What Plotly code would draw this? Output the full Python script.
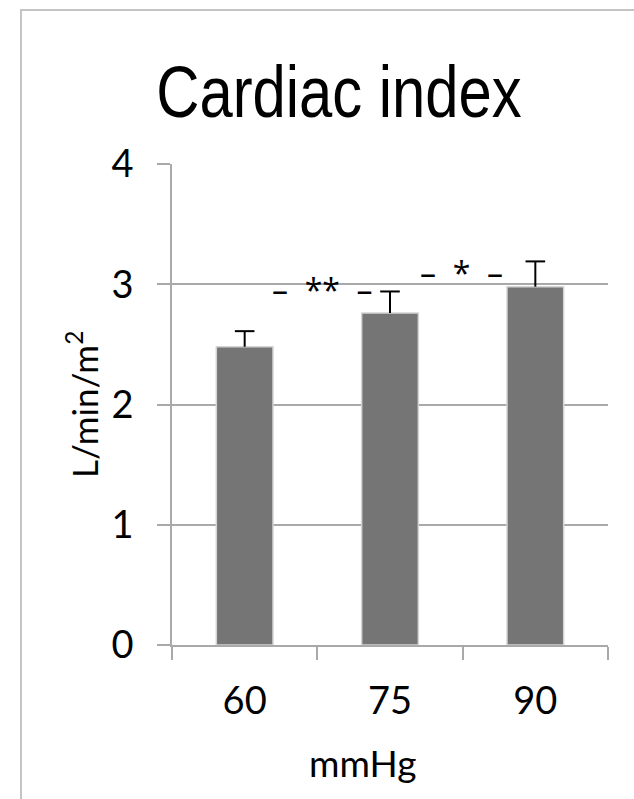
import plotly.graph_objects as go

# Mean cardiac index per mean arterial pressure target, with upper SD
pressures = ["60", "75", "90"]
cardiac_index = [2.48, 2.76, 2.98]
sd_upper = [0.13, 0.18, 0.21]

# Significance markers between neighbouring groups
sig_labels = ["–  **  –", "–  *  –"]
sig_x = [0.535, 1.49]
sig_y = [2.96, 3.10]

y_ticks = [0, 1, 2, 3, 4]

W, H = 634, 799
L, R, T, B = 172, 26, 164, 154
pw, ph = W - L - R, H - T - B

grid = "#a9a9a9"
body_font = "Lato"


def px_to_paper_y(py):
    return (T + ph - py) / ph


def px_to_paper_x(px):
    return (px - L) / pw


fig = go.Figure()
fig.add_trace(go.Bar(
    x=pressures,
    y=cardiac_index,
    marker=dict(color="#757575", line=dict(color="#d4d4d4", width=1.5)),
    width=0.39,
    showlegend=False,
    hoverinfo="skip",
))

# Upper-only error bars: a stem from the bar top plus a cap at the end
stem_x, stem_y = [], []
for p, v, e in zip(pressures, cardiac_index, sd_upper):
    stem_x += [p, p, None]
    stem_y += [v, v + e, None]
fig.add_trace(go.Scatter(
    x=stem_x, y=stem_y, mode="lines",
    line=dict(color="black", width=2), showlegend=False, hoverinfo="skip",
))
fig.add_trace(go.Scatter(
    x=pressures, y=[v + e for v, e in zip(cardiac_index, sd_upper)], mode="markers",
    marker=dict(symbol="line-ew", size=14, line=dict(color="black", width=2)),
    showlegend=False, hoverinfo="skip",
))

for txt, xv, yv in zip(sig_labels, sig_x, sig_y):
    fig.add_annotation(x=xv, y=yv, xref="x", yref="y", text=txt, showarrow=False,
                       xanchor="center", yanchor="middle",
                       font=dict(family="Open Sans", size=32, color="black"))

# Axis titles
fig.add_annotation(x=px_to_paper_x(82), y=px_to_paper_y(405), xref="paper", yref="paper",
                   text="L/min/m<sup>2</sup>", textangle=-90, showarrow=False,
                   xanchor="center", yanchor="middle",
                   font=dict(family=body_font, size=35, color="black"))
fig.add_annotation(x=px_to_paper_x(362), y=px_to_paper_y(762), xref="paper", yref="paper",
                   text="mmHg", showarrow=False, xanchor="center", yanchor="middle",
                   font=dict(family=body_font, size=37, color="black"))

# Chart frame
fig.add_shape(type="rect", xref="paper", yref="paper",
              x0=px_to_paper_x(21), x1=px_to_paper_x(W + 20),
              y0=px_to_paper_y(H + 20), y1=px_to_paper_y(10),
              line=dict(color="#c4c4c4", width=2), fillcolor="rgba(0,0,0,0)", layer="below")

fig.update_layout(
    width=W, height=H,
    margin=dict(l=L, r=R, t=T, b=B),
    paper_bgcolor="white", plot_bgcolor="white",
    bargap=0.61,
    title=dict(text="Cardiac index", xref="paper", x=px_to_paper_x(339), xanchor="center",
               yref="container", y=1 - 92 / H, yanchor="middle",
               font=dict(family="Liberation Sans", size=72, color="black")),
)
fig.update_xaxes(
    type="category", showline=True, linecolor=grid, linewidth=1.5,
    ticks="outside", tickson="boundaries", ticklen=13, tickcolor=grid, tickwidth=1.5,
    tickfont=dict(family=body_font, size=38, color="black"),
    ticklabelstandoff=22, showgrid=False,
)
fig.update_yaxes(
    range=[0, 4], tickvals=y_ticks, showgrid=True, gridcolor=grid, gridwidth=1.5,
    showline=True, linecolor=grid, linewidth=1.5, zeroline=False,
    ticks="outside", ticklen=13, tickcolor=grid, tickwidth=1.5,
    tickfont=dict(family=body_font, size=38, color="black"),
    ticklabelstandoff=16,
)

# The title is set in a condensed cut: narrow the glyphs horizontally about their centre
condense_title = """
var gd = document.getElementsByClassName('plotly-graph-div')[0];
function condense() {
  gd.querySelectorAll('.gtitle').forEach(function (t) {
    t.removeAttribute('transform');
    var b = t.getBBox();
    var cx = b.x + b.width / 2;
    t.setAttribute('transform', 'translate(' + cx + ',0) scale(0.83,1) translate(' + (-cx) + ',0)');
  });
}
condense();
gd.on('plotly_afterplot', condense);
"""

fig.write_html("out.html", post_script=condense_title)
